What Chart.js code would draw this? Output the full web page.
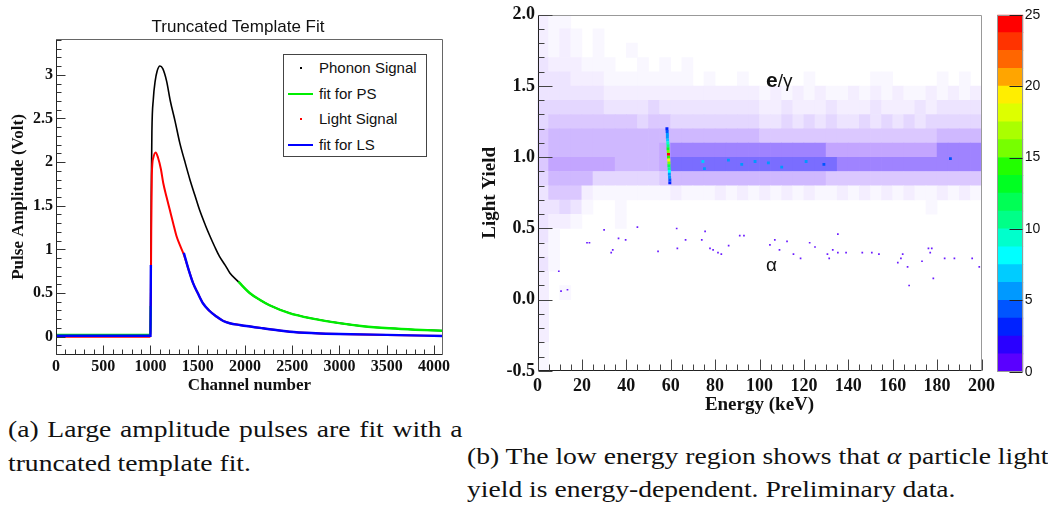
<!DOCTYPE html>
<html>
<head>
<meta charset="utf-8">
<title>Truncated template fit and light yield</title>
<script src="https://cdn.jsdelivr.net/npm/chart.js@4.4.1/dist/chart.umd.min.js"></script>
<style>
  html, body { margin: 0; padding: 0; background: #fff; }
  body { position: relative; width: 1048px; height: 505px; overflow: hidden; }
  canvas, .abs { position: absolute; }
  #pulseChart { left: 0; top: 0; }
  #yieldChart { left: 470px; top: 0; }
  #zChart { left: 993px; top: 0; }
  .plotTitle { left: 0; width: 476px; top: 17px; text-align: center; font: 17px "Liberation Sans", Arial, sans-serif; color: #111; }
  #legend { left: 283px; top: 54px; width: 142px; height: 101px; border: 1px solid #444; background: #fff; font: 15px "Liberation Sans", Arial, sans-serif; color: #111; }
  #legend .item { position: absolute; left: 0; width: 100%; height: 20px; }
  #legend .mark { position: absolute; left: 4px; width: 25px; top: 9px; height: 2px; }
  #legend .dot { position: absolute; left: 16px; top: 9px; width: 2px; height: 2px; }
  #legend .txt { position: absolute; left: 35px; top: 0; line-height: 20px; }
  .note { font: 19px "Liberation Sans", Arial, sans-serif; color: #111; }
  .cap { font: 24px/26px "Liberation Serif", "Times New Roman", serif; color: #111; white-space: nowrap; transform: scaleX(1.15); transform-origin: 0 0; }
</style>
</head>
<body>
<canvas id="pulseChart" width="460" height="400"></canvas>
<canvas id="yieldChart" width="530" height="420"></canvas>
<canvas id="zChart" width="55" height="400"></canvas>
<div class="abs plotTitle">Truncated Template Fit</div>
<div class="abs" id="legend"></div>
<div class="abs note" style="left:766px; top:68px;"><b style="font-size:21px">e</b>/γ</div>
<div class="abs note" style="left:766px; top:254px;">α</div>
<div class="abs cap" style="left:8px; top:416px; word-spacing:1.6px;">(a) Large amplitude pulses are fit with a</div>
<div class="abs cap" style="left:8px; top:450px;">truncated template fit.</div>
<div class="abs cap" style="left:467px; top:443px;">(b) The low energy region shows that <i>α</i> particle light</div>
<div class="abs cap" style="left:467px; top:476px;">yield is energy-dependent. Preliminary data.</div>
<script>
// ---------- (a) pulses: channel number vs amplitude (Volt) ----------
const seriesNames = ['Phonon Signal', 'fit for PS', 'Light Signal', 'fit for LS'];
const seriesColors = ['#000000', '#00ee00', '#ff0000', '#0000ff'];
const pulseTicksX = [0, 500, 1000, 1500, 2000, 2500, 3000, 3500, 4000];
const pulseTicksY = [0, 0.5, 1, 1.5, 2, 2.5, 3];

const phononCh = [0, 500, 995, 1003, 1008, 1015, 1030, 1050, 1070, 1100, 1130, 1170, 1210, 1260, 1310, 1360, 1420, 1470, 1520, 1580, 1630, 1680, 1730, 1790, 1840, 1930, 2050, 2160, 2260, 2470, 2700, 3000, 3250, 3530, 3800, 4096];
const phononV  = [0.01, 0.01, 0.01, 0.5, 1.6, 2.35, 2.72, 2.93, 3.04, 3.10, 3.07, 2.93, 2.70, 2.47, 2.22, 2.02, 1.79, 1.62, 1.45, 1.28, 1.15, 1.03, 0.92, 0.82, 0.73, 0.63, 0.50, 0.42, 0.36, 0.27, 0.21, 0.155, 0.12, 0.096, 0.08, 0.068];

const fitPsCh = [0, 1000, 1003, 1004, 1930, 2050, 2160, 2260, 2470, 2700, 3000, 3250, 3530, 3800, 4096];
const fitPsV  = [0.02, 0.02, 0.35, null, 0.63, 0.50, 0.42, 0.36, 0.27, 0.21, 0.155, 0.12, 0.096, 0.08, 0.068];

const lightCh = [0, 500, 995, 1003, 1008, 1014, 1030, 1054, 1080, 1110, 1135, 1170, 1205, 1240, 1276, 1315, 1353, 1400, 1452, 1500, 1557, 1620, 1699, 1770, 1839, 1945, 2192, 2474, 2750, 3000, 3500, 4096];
const lightV  = [0.0, 0.0, 0.0, 0.3, 1.2, 1.85, 2.05, 2.11, 2.05, 1.92, 1.76, 1.60, 1.45, 1.30, 1.15, 1.04, 0.94, 0.78, 0.61, 0.50, 0.38, 0.30, 0.23, 0.18, 0.154, 0.134, 0.096, 0.057, 0.04, 0.031, 0.02, 0.008];

const fitLsCh = [0, 1000, 1004, 1005, 1353, 1400, 1452, 1500, 1557, 1620, 1699, 1770, 1839, 1945, 2192, 2474, 2750, 3000, 3500, 4096];
const fitLsV  = [0.01, 0.01, 0.82, null, 0.96, 0.78, 0.61, 0.50, 0.38, 0.30, 0.23, 0.18, 0.154, 0.134, 0.096, 0.057, 0.04, 0.031, 0.02, 0.008];

// ---------- (b) light yield vs energy ----------
const yieldTicksX = [0, 20, 40, 60, 80, 100, 120, 140, 160, 180, 200];
const yieldTicksY = [-0.5, 0.0, 0.5, 1.0, 1.5, 2.0];

// occupancy of 5 keV x 0.1 bins, 0 (empty) .. 9 (full), rows from LY 2.0 down to -0.5
const energyBin = 5;
const yieldBin = 0.1;
const yieldTop = 2.0;
const densityRows = [
  '21100000000000000000' + '00000000000000000000',
  '21210100000000000000' + '00000000000000000000',
  '21210100100000000000' + '00000000000000000000',
  '32221110010101000000' + '00000000000000000000',
  '33322211111111010010' + '00001000001100001010',
  '33333322222222222222' + '12121211212121121212',
  '44444433334333333333' + '22322232223222323333',
  '45555555545544444444' + '33434343343434344444',
  '56666666666666666666' + '55555555555555556666',
  '56666666666788888888' + '88888877777777778888',
  '57777776666799999999' + '99999998888888888888',
  '46666444444566666666' + '66666655555555555555',
  '35552111111121112121' + '21212112121212112121',
  '33431001000000000000' + '00000000000000010000',
  '32210001000000000000' + '00000000000000000000',
  '31000000000000000000' + '00000000000000000000',
  '21000000000000000000' + '00000000000000000000',
  '31000000000000000000' + '00000000000000000000',
  '20000000000000000000' + '00000000000000000000',
  '20100000000000000000' + '00000000000000000000',
  '20000000000000000000' + '00000000000000000000',
  '20000000000000000000' + '00000000000000000000',
  '20000000000000000000' + '00000000000000000000',
  '10000000000000000000' + '00000000000000000000',
  '10000000000000000000' + '00000000000000000000'
];

// alpha events (keV, light yield)
const alphaE = [9.6, 10.6, 13.5, 22.3, 23.4, 30, 33.2, 33.9, 36.5, 39.7, 45, 54.3, 62.7, 63, 66.7, 74, 75.5, 77.7, 79.1, 81.3, 82.8, 86.1, 91.1, 93, 104.7, 106.9, 109, 112.4, 115.3, 118.5, 122.6, 125, 130.6, 131.4, 133, 135.3, 135.3, 139, 146.3, 150.6, 153.8, 162.3, 163.7, 164.5, 166.7, 167.4, 173.2, 176.1, 176.9, 177.6, 178.3, 183.4, 187.8, 195.8, 199];
const alphaY = [0.2, 0.06, 0.07, 0.40, 0.40, 0.49, 0.33, 0.35, 0.43, 0.42, 0.51, 0.34, 0.50, 0.36, 0.42, 0.42, 0.48, 0.36, 0.35, 0.33, 0.32, 0.38, 0.45, 0.45, 0.385, 0.42, 0.35, 0.41, 0.32, 0.29, 0.40, 0.37, 0.32, 0.29, 0.35, 0.46, 0.33, 0.33, 0.33, 0.33, 0.32, 0.26, 0.29, 0.32, 0.23, 0.10, 0.27, 0.36, 0.33, 0.36, 0.15, 0.29, 0.29, 0.29, 0.23];

// 60 keV calibration line: bin position and counts
const lineE = [58.3, 58.4, 58.5, 58.5, 58.6, 58.7, 58.8, 58.8, 58.9, 59.0, 59.0, 59.1, 59.2, 59.2, 59.3, 59.4, 59.4, 59.5, 59.6, 59.6];
const lineY = [1.20, 1.18, 1.16, 1.14, 1.12, 1.10, 1.08, 1.06, 1.04, 1.02, 1.00, 0.98, 0.96, 0.94, 0.92, 0.90, 0.88, 0.86, 0.84, 0.82];
const lineCounts = [3, 4, 5, 6, 7, 9, 11, 13, 16, 24, 14, 19, 15, 12, 10, 8, 6, 5, 4, 3];

// brighter bins inside the e/gamma band
const hotE = [74.5, 75.2, 86, 92, 98, 104, 110, 121, 129, 186];
const hotY = [0.97, 0.92, 0.98, 0.95, 0.97, 0.96, 0.93, 0.97, 0.95, 0.99];
const hotCounts = [7, 6, 5, 5, 6, 5, 5, 5, 4, 4];

// colour scale (z), 20 contours from 0 to 25
const zMax = 25;
const zTicks = [0, 5, 10, 15, 20, 25];
const paletteColors = ['#5a00ff', '#2a00ff', '#0022ff', '#0055ff', '#0099ff', '#00ccff', '#00ffff', '#00ffcc', '#00ff88', '#00ff55',
                       '#00ff22', '#22ff00', '#77ff00', '#aaff00', '#ddff00', '#ffee00', '#ffa500', '#ff6600', '#ff3300', '#ff0000'];

// ---------- helpers ----------
const serifBold = size => ({ family: '"Liberation Serif", "Times New Roman", serif', size, weight: 'bold' });
const zip = (xs, ys) => xs.map((x, i) => ({ x, y: ys[i] }));
const fixedTicks = list => s => { s.ticks = list.map(v => ({ value: v })); };
const zColor = c => paletteColors[Math.min(paletteColors.length - 1, Math.floor(c / (zMax / paletteColors.length)))];

function levelColor(level) {
  const tint = [0, 0.04, 0.08, 0.13, 0.19, 0.26, 0.34, 0.43, 0.55, 0.68][level];
  const base = level >= 9 ? [60, 40, 255] : level >= 8 ? [80, 30, 255] : [115, 45, 255];
  const mix = base.map(b => Math.round(b * tint + 255 * (1 - tint)));
  return `rgb(${mix[0]},${mix[1]},${mix[2]})`;
}

// ROOT-like frame with inward tick marks
const rootFrame = {
  id: 'rootFrame',
  afterDatasetsDraw(chart, args, opts) {
    const { ctx, chartArea: a } = chart;
    const L = Math.round(a.left) + 0.5, R = Math.round(a.right) - 0.5;
    const T = Math.round(a.top) + 0.5, B = Math.round(a.bottom) - 0.5;
    ctx.save();
    ctx.lineWidth = 1;
    ctx.strokeStyle = opts.frameColor;
    ctx.beginPath();
    ctx.moveTo(L, T); ctx.lineTo(R, T); ctx.lineTo(R, B);
    ctx.stroke();
    ctx.strokeStyle = opts.axisColor;
    ctx.beginPath();
    ctx.moveTo(L, T); ctx.lineTo(L, B); ctx.lineTo(R, B);
    ctx.stroke();
    (opts.marks || []).forEach(m => {
      const scale = chart.scales[m.axis];
      ctx.strokeStyle = m.color;
      ctx.beginPath();
      const start = Math.ceil(scale.min / m.step - 1e-6);
      for (let k = start; k * m.step <= scale.max + 1e-9; k++) {
        const v = k * m.step;
        const major = Math.abs(v / m.major - Math.round(v / m.major)) < 1e-6;
        const len = major ? m.majorLen : m.minorLen;
        const p = Math.round(scale.getPixelForValue(v)) + 0.5;
        if (m.side === 'bottom') { ctx.moveTo(p, B); ctx.lineTo(p, B - len); }
        else if (m.side === 'left') { ctx.moveTo(L, p); ctx.lineTo(L + len, p); }
        else { ctx.moveTo(R, p); ctx.lineTo(R - len, p); }
      }
      ctx.stroke();
    });
    ctx.restore();
  }
};

// ---------- chart (a) ----------
const pulseData = [zip(phononCh, phononV), zip(fitPsCh, fitPsV), zip(lightCh, lightV), zip(fitLsCh, fitLsV)];
const pulseWidths = [1.6, 2.4, 2, 2.4];
const pulseOrder = [3, 1, 2, 0];

new Chart(document.getElementById('pulseChart'), {
  type: 'line',
  data: {
    datasets: seriesNames.map((name, i) => ({
      label: name,
      data: pulseData[i],
      borderColor: seriesColors[i],
      borderWidth: pulseWidths[i],
      order: pulseOrder[i]
    }))
  },
  options: {
    responsive: false,
    animation: false,
    layout: { padding: { left: 0, top: 39, right: 17, bottom: 0 } },
    elements: { point: { radius: 0 }, line: { cubicInterpolationMode: 'monotone' } },
    plugins: {
      legend: { display: false },
      tooltip: { enabled: false },
      rootFrame: {
        frameColor: '#666', axisColor: '#222',
        marks: [
          { axis: 'x', side: 'bottom', step: 100, major: 500, majorLen: 9, minorLen: 5, color: '#333' },
          { axis: 'y', side: 'left', step: 0.1, major: 0.5, majorLen: 9, minorLen: 5, color: '#333' }
        ]
      }
    },
    scales: {
      x: {
        type: 'linear', min: 0, max: 4096,
        grid: { display: false, drawTicks: false }, border: { display: false },
        afterBuildTicks: fixedTicks(pulseTicksX),
        ticks: { autoSkip: false, maxRotation: 0, padding: 2, color: '#111', font: serifBold(16), callback: v => String(v) },
        title: { display: true, text: 'Channel number', color: '#111', font: serifBold(17), padding: { top: 0, bottom: 4 } },
        afterFit: s => { s.height = 45; }
      },
      y: {
        type: 'linear', min: -0.21, max: 3.41,
        grid: { display: false, drawTicks: false }, border: { display: false },
        afterBuildTicks: fixedTicks(pulseTicksY),
        ticks: { autoSkip: false, padding: 3, color: '#111', font: serifBold(16), callback: v => String(v) },
        title: { display: true, text: 'Pulse Amplitude (Volt)', color: '#111', font: serifBold(17), padding: { top: 8, bottom: 0 } },
        afterFit: s => { s.width = 56; }
      }
    }
  },
  plugins: [rootFrame]
});

// html legend from the series
const legendBox = document.getElementById('legend');
seriesNames.forEach((name, i) => {
  const item = document.createElement('div');
  item.className = 'item';
  item.style.top = (3 + i * 25.5) + 'px';
  const mark = document.createElement('span');
  mark.className = name.startsWith('fit') ? 'mark' : 'dot';
  mark.style.background = seriesColors[i];
  const txt = document.createElement('span');
  txt.className = 'txt';
  txt.textContent = name;
  item.appendChild(mark);
  item.appendChild(txt);
  legendBox.appendChild(item);
});

// ---------- chart (b) ----------
const cells = [];
const cellColors = [];
densityRows.forEach((row, r) => {
  for (let c = 0; c < row.length; c++) {
    const level = +row[c];
    if (!level) continue;
    cells.push({ x: c * energyBin + energyBin / 2, y: [yieldTop - (r + 1) * yieldBin, yieldTop - r * yieldBin] });
    cellColors.push(levelColor(level));
  }
});

new Chart(document.getElementById('yieldChart'), {
  type: 'bar',
  data: {
    datasets: [
      { type: 'scatter', label: '60 keV line', data: zip(lineE, lineY), pointStyle: 'rect', pointRadius: 2.1, pointBorderWidth: 0,
        pointBackgroundColor: lineCounts.map(zColor), order: 0 },
      { type: 'scatter', label: 'dense bins', data: zip(hotE, hotY), pointStyle: 'rect', pointRadius: 2, pointBorderWidth: 0,
        pointBackgroundColor: hotCounts.map(zColor), order: 1 },
      { type: 'scatter', label: 'alpha', data: zip(alphaE, alphaY), pointStyle: 'rect', pointRadius: 1.2, pointBorderWidth: 0,
        pointBackgroundColor: '#6a1bff', order: 2 },
      { type: 'bar', label: 'e/gamma occupancy', data: cells, backgroundColor: cellColors, borderWidth: 0,
        barPercentage: 1, categoryPercentage: 1, order: 3 }
    ]
  },
  options: {
    responsive: false,
    animation: false,
    layout: { padding: { left: 0, top: 14.7, right: 5, bottom: 0 } },
    plugins: {
      legend: { display: false },
      tooltip: { enabled: false },
      rootFrame: {
        frameColor: '#999', axisColor: '#222',
        marks: [
          { axis: 'x', side: 'bottom', step: 5, major: 20, majorLen: 11, minorLen: 6, color: '#444' },
          { axis: 'y', side: 'left', step: 0.1, major: 0.5, majorLen: 14, minorLen: 6, color: '#444' }
        ]
      }
    },
    scales: {
      x: {
        type: 'linear', min: 0, max: 200, offset: false,
        grid: { display: false, drawTicks: false, offset: false }, border: { display: false },
        afterBuildTicks: fixedTicks(yieldTicksX),
        ticks: { autoSkip: false, maxRotation: 0, padding: 5, color: '#111', font: serifBold(18), callback: v => String(v) },
        title: { display: true, text: 'Energy (keV)', color: '#111', font: serifBold(19), padding: { top: 0, bottom: 3.6 } },
        afterFit: s => { s.height = 49; }
      },
      y: {
        type: 'linear', min: -0.5, max: 2.0,
        grid: { display: false, drawTicks: false }, border: { display: false },
        afterBuildTicks: fixedTicks(yieldTicksY),
        ticks: { autoSkip: false, padding: 2.5, color: '#111', font: serifBold(18), callback: v => v.toFixed(1) },
        title: { display: true, text: 'Light Yield', color: '#111', font: serifBold(19), padding: { top: 8.6, bottom: 0 } },
        afterFit: s => { s.width = 67.5; }
      }
    }
  },
  plugins: [rootFrame]
});

// ---------- colour scale ----------
const zStep = zMax / paletteColors.length;
new Chart(document.getElementById('zChart'), {
  type: 'bar',
  data: {
    labels: [''],
    datasets: paletteColors.map(col => ({ data: [zStep], backgroundColor: col, borderWidth: 0, barPercentage: 1, categoryPercentage: 1 }))
  },
  options: {
    responsive: false,
    animation: false,
    layout: { padding: { left: 4.3, top: 14.7, right: 0, bottom: 28.3 } },
    plugins: {
      legend: { display: false },
      tooltip: { enabled: false },
      rootFrame: {
        frameColor: '#999', axisColor: '#999',
        marks: [{ axis: 'y', side: 'right', step: 5, major: 5, majorLen: 13, minorLen: 13, color: '#222' }]
      }
    },
    scales: {
      x: { stacked: true, display: false },
      y: {
        stacked: true, position: 'right', min: 0, max: zMax,
        grid: { display: false, drawTicks: false }, border: { display: false },
        afterBuildTicks: fixedTicks(zTicks),
        ticks: { padding: 1.5, color: '#111', font: { family: '"Liberation Sans", Arial, sans-serif', size: 14 } },
        afterFit: s => { s.width = 24.7; }
      }
    }
  },
  plugins: [rootFrame]
});
</script>
</body>
</html>
